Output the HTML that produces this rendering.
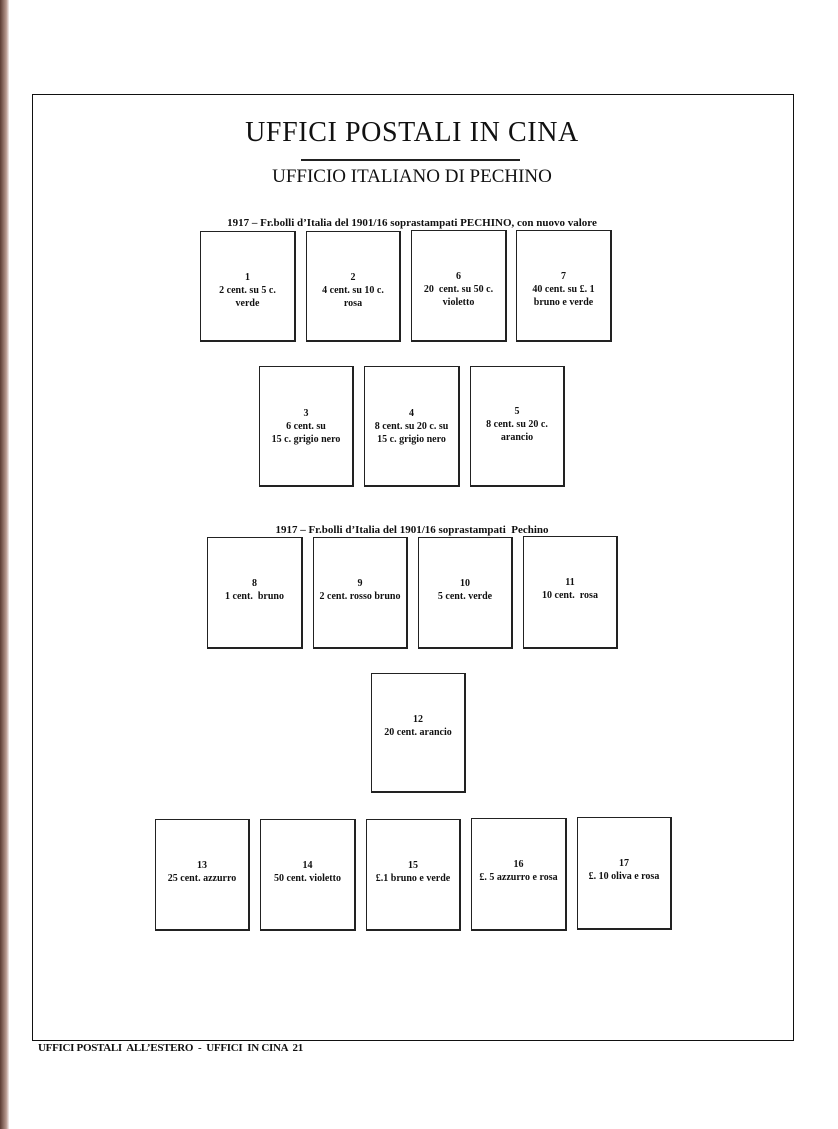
<!DOCTYPE html>
<html><head><meta charset="utf-8"><style>
body{margin:0;width:838px;height:1129px;background:#fff;position:relative;overflow:hidden;font-family:"Liberation Serif",serif;color:#111}
.strip{position:absolute;left:0;top:0;width:9px;height:1129px;background:linear-gradient(90deg,#5a3a32,#b89a90 70%,#f4eeee)}
.frame{position:absolute;left:32px;top:94px;width:760px;height:945px;border:1.5px solid #111}
.b{position:absolute;border:1.5px solid #222;border-right-width:2px;border-bottom-width:2px;box-sizing:border-box;text-align:center;font-size:10px;line-height:13px;font-weight:bold;padding-top:39px}
.t{position:absolute;left:0;width:838px;text-align:center}
</style></head><body>
<div class="strip"></div>
<div class="frame"></div>
<div class="t" style="left:-7px;top:117px;font-size:28px;letter-spacing:0.6px">UFFICI POSTALI IN CINA</div>
<div style="position:absolute;left:301px;top:159px;width:219px;height:2px;background:#222"></div>
<div class="t" style="left:-7px;top:166px;font-size:19px">UFFICIO ITALIANO DI PECHINO</div>
<div class="t" style="left:-7px;top:217px;font-size:11px;font-weight:bold">1917 – Fr.bolli d’Italia del 1901/16 soprastampati PECHINO, con nuovo valore</div>
<div class="b" style="left:200px;top:231px;width:96px;height:111px">1<br>2 cent. su 5 c.<br>verde</div>
<div class="b" style="left:306px;top:231px;width:95px;height:111px">2<br>4 cent. su 10 c.<br>rosa</div>
<div class="b" style="left:411px;top:230px;width:96px;height:112px">6<br>20&nbsp; cent. su 50 c.<br>violetto</div>
<div class="b" style="left:516px;top:230px;width:96px;height:112px">7<br>40 cent. su £. 1<br>bruno e verde</div>
<div class="b" style="left:259px;top:366px;width:95px;height:121px;padding-top:40px">3<br>6 cent. su<br>15 c. grigio nero</div>
<div class="b" style="left:364px;top:366px;width:96px;height:121px;padding-top:40px">4<br>8 cent. su 20 c. su<br>15 c. grigio nero</div>
<div class="b" style="left:470px;top:366px;width:95px;height:121px;padding-top:38px">5<br>8 cent. su 20 c.<br>arancio</div>
<div class="t" style="left:-7px;top:524px;font-size:11px;font-weight:bold">1917 – Fr.bolli d’Italia del 1901/16 soprastampati&nbsp; Pechino</div>
<div class="b" style="left:207px;top:537px;width:96px;height:112px">8<br>1 cent.&nbsp; bruno</div>
<div class="b" style="left:313px;top:537px;width:95px;height:112px">9<br>2 cent. rosso bruno</div>
<div class="b" style="left:418px;top:537px;width:95px;height:112px">10<br>5 cent. verde</div>
<div class="b" style="left:523px;top:536px;width:95px;height:113px">11<br>10 cent.&nbsp; rosa</div>
<div class="b" style="left:371px;top:673px;width:95px;height:120px">12<br>20 cent. arancio</div>
<div class="b" style="left:155px;top:819px;width:95px;height:112px">13<br>25 cent. azzurro</div>
<div class="b" style="left:260px;top:819px;width:96px;height:112px">14<br>50 cent. violetto</div>
<div class="b" style="left:366px;top:819px;width:95px;height:112px">15<br>£.1 bruno e verde</div>
<div class="b" style="left:471px;top:818px;width:96px;height:113px">16<br>£. 5 azzurro e rosa</div>
<div class="b" style="left:577px;top:817px;width:95px;height:113px">17<br>£. 10 oliva e rosa</div>
<div style="position:absolute;left:38px;top:1042px;font-size:11px;font-weight:bold;white-space:pre;letter-spacing:-0.3px">UFFICI POSTALI  ALL’ESTERO  -  UFFICI  IN CINA  21</div>
</body></html>
